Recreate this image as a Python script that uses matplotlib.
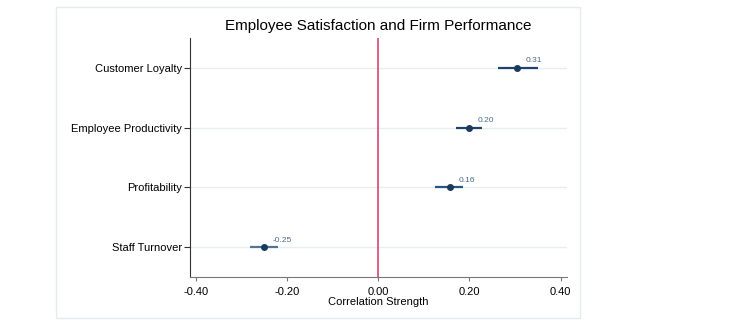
import matplotlib.pyplot as plt
from matplotlib.patches import Rectangle

# rows from bottom to top
outcomes = ["Staff Turnover", "Profitability", "Employee Productivity", "Customer Loyalty"]
corr = [-0.251, 0.157, 0.199, 0.305]
ci_low = [-0.282, 0.125, 0.170, 0.262]
ci_high = [-0.219, 0.185, 0.227, 0.350]
labels = ["-0.25", "0.16", "0.20", "0.31"]
bar_colors = ["#4f7399", "#2b5580", "#1d4270", "#1d4270"]

xticks = [-0.40, -0.20, 0.00, 0.20, 0.40]

plt.rcParams['font.family'] = ['Liberation Sans', 'DejaVu Sans']

fig = plt.figure(figsize=(7.37, 3.29), dpi=100)
# light frame around the graph region
fig.patches.append(Rectangle((56 / 737, 1 - 318 / 329), 524 / 737, 311 / 329,
                             transform=fig.transFigure, fill=False,
                             edgecolor="#e3ecee", linewidth=1.0))

ax = fig.add_axes([190 / 737, 1 - 277 / 329, 377 / 737, 239 / 329])
ypos = list(range(1, len(outcomes) + 1))

for y in ypos:
    ax.axhline(y, color="#e6eeef", linewidth=1.0, zorder=0)

ax.axvline(0, color="#d9456f", linewidth=1.2, zorder=1)

for y, c, lo, hi, col, lab in zip(ypos, corr, ci_low, ci_high, bar_colors, labels):
    ax.plot([lo, hi], [y, y], color=col, linewidth=1.6, solid_capstyle="butt", zorder=2)
    ax.plot(c, y, "o", color="#1a3a5c", markersize=4, zorder=3)
    ax.annotate(lab, (c, y), xytext=(6, 5), textcoords="offset points",
                ha="left", va="center", fontsize=6, color="#4a6a8f")

ax.set_xlim(-0.413, 0.414)
ax.set_ylim(0.5, 4.5)
ax.set_yticks(ypos)
ax.set_yticklabels(outcomes, fontsize=8)
ax.set_xticks(xticks)
ax.set_xticklabels(["%.2f" % v for v in xticks], fontsize=8)
ax.set_xlabel("Correlation Strength", fontsize=8, labelpad=0)
ax.set_title("Employee Satisfaction and Firm Performance", fontsize=11, pad=6)

for s in ["top", "right"]:
    ax.spines[s].set_visible(False)
ax.spines["left"].set_color("#333333")
ax.spines["bottom"].set_color("#777777")
ax.tick_params(axis="y", length=4, color="#333333", pad=2)
ax.tick_params(axis="x", length=3, color="#777777", pad=4)

fig.savefig("out.png", dpi=100)
